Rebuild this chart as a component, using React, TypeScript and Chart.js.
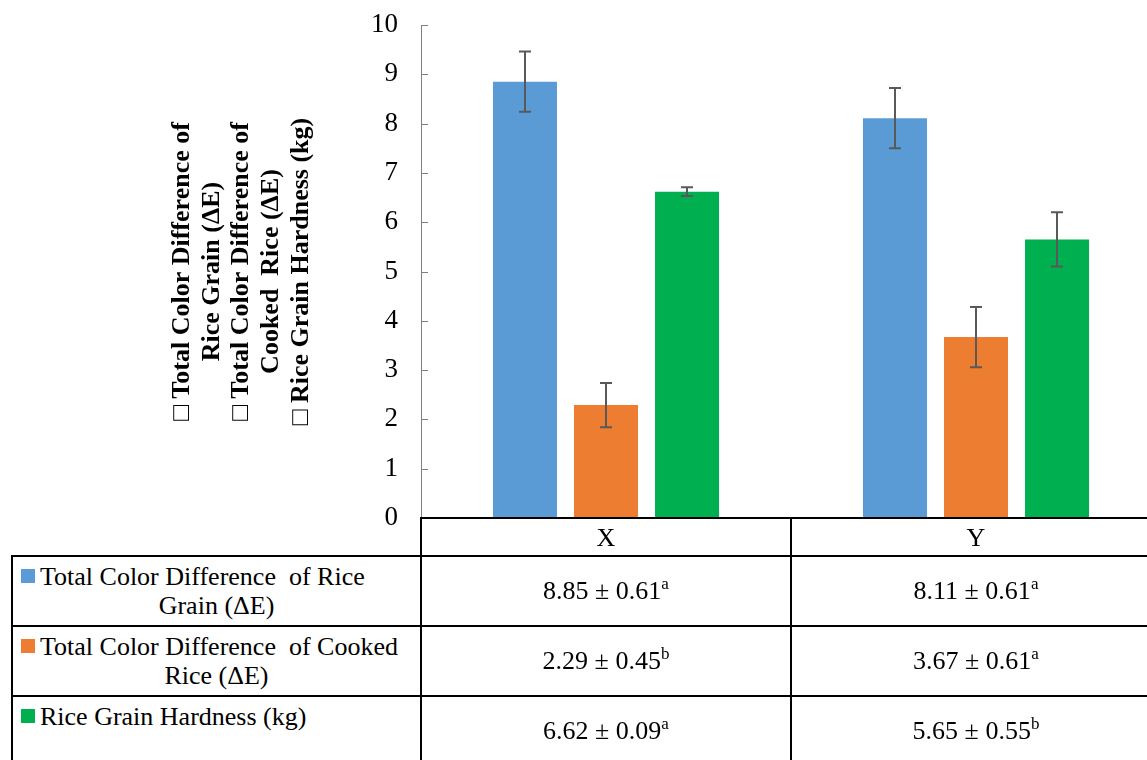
import React, { useEffect, useRef } from "react";
import { Chart, registerables } from "chart.js";

Chart.register(...registerables);

// ---- data ----
const categories = ["X", "Y"];
const seriesNames = [
  "Total Color Difference of Rice Grain (ΔE)",
  "Total Color Difference of Cooked Rice (ΔE)",
  "Rice Grain Hardness (kg)",
];
const riceGrainDE = [8.85, 8.11];
const riceGrainDESd = [0.61, 0.61];
const riceGrainDELetters = ["a", "a"];
const cookedRiceDE = [2.29, 3.67];
const cookedRiceDESd = [0.45, 0.61];
const cookedRiceDELetters = ["b", "a"];
const hardness = [6.62, 5.65];
const hardnessSd = [0.09, 0.55];
const hardnessLetters = ["a", "b"];
const yMin = 0;
const yMax = 10;
const yStep = 1;
const yTitleLines = [
  "□ Total Color Difference of",
  "Rice Grain (ΔE)",
  "□ Total Color Difference of",
  "Cooked  Rice (ΔE)",
  "□ Rice Grain Hardness (kg)",
];
const seriesColors = ["#5B9BD5", "#ED7D31", "#00B050"];

const seriesValues = [riceGrainDE, cookedRiceDE, hardness];
const seriesSd = [riceGrainDESd, cookedRiceDESd, hardnessSd];
const seriesLetters = [riceGrainDELetters, cookedRiceDELetters, hardnessLetters];

const SERIF = "'Liberation Serif', 'Times New Roman', serif";

const errorBarPlugin = {
  id: "errorBars",
  afterDatasetsDraw(chart: any) {
    const ctx = chart.ctx;
    const yScale = chart.scales.y;
    ctx.save();
    ctx.strokeStyle = "#595959";
    ctx.lineWidth = 2;
    chart.data.datasets.forEach((ds: any, i: number) => {
      const meta = chart.getDatasetMeta(i);
      meta.data.forEach((el: any, j: number) => {
        const v = ds.data[j];
        const sd = seriesSd[i][j];
        const yT = yScale.getPixelForValue(v + sd);
        const yB = yScale.getPixelForValue(v - sd);
        const x = Math.round(el.x);
        ctx.beginPath();
        ctx.moveTo(x, yT);
        ctx.lineTo(x, yB);
        ctx.moveTo(x - 6, yT);
        ctx.lineTo(x + 6, yT);
        ctx.moveTo(x - 6, yB);
        ctx.lineTo(x + 6, yB);
        ctx.stroke();
      });
    });
    ctx.restore();
  },
};

const innerTicksPlugin = {
  id: "innerTicks",
  afterDraw(chart: any) {
    const ctx = chart.ctx;
    const yScale = chart.scales.y;
    const left = chart.chartArea.left;
    ctx.save();
    ctx.strokeStyle = "#7f7f7f";
    ctx.lineWidth = 1;
    yScale.ticks.forEach((t: any) => {
      const y = Math.round(yScale.getPixelForValue(t.value)) + 0.5;
      ctx.beginPath();
      ctx.moveTo(left, y);
      ctx.lineTo(left + 7, y);
      ctx.stroke();
    });
    ctx.restore();
  },
};

function Line({ x, y, w, h }: { x: number; y: number; w: number; h: number }) {
  return (
    <div
      style={{ position: "absolute", left: x, top: y, width: w, height: h, background: "#000" }}
    />
  );
}

export default function App() {
  const canvasRef = useRef<HTMLCanvasElement | null>(null);

  useEffect(() => {
    if (!canvasRef.current) return;
    const chart = new Chart(canvasRef.current, {
      type: "bar",
      data: {
        labels: categories,
        datasets: seriesValues.map((vals, i) => ({
          label: seriesNames[i],
          data: vals,
          backgroundColor: seriesColors[i],
          borderWidth: 0,
          categoryPercentage: 0.657,
          barPercentage: 0.79,
        })),
      },
      options: {
        responsive: false,
        animation: false,
        devicePixelRatio: 1,
        layout: { padding: { top: 25, bottom: 17, left: 0, right: 0 } },
        plugins: { legend: { display: false }, tooltip: { enabled: false } },
        scales: {
          x: { display: false },
          y: {
            min: yMin,
            max: yMax,
            afterFit(scale: any) {
              scale.width = 421;
            },
            ticks: {
              stepSize: yStep,
              color: "#000",
              padding: 0,
              font: { family: SERIF, size: 27 },
            },
            grid: {
              display: true,
              drawOnChartArea: false,
              drawTicks: true,
              tickLength: 23,
              color: "rgba(0,0,0,0)",
            },
            border: { display: true, color: "#7f7f7f", width: 1 },
            title: {
              display: true,
              text: yTitleLines,
              color: "#000",
              font: { family: SERIF, size: 26, weight: "bold", lineHeight: 1.15 },
              padding: { top: 167, bottom: 0 },
            },
          },
        },
      },
      plugins: [errorBarPlugin, innerTicksPlugin],
    });
    return () => chart.destroy();
  }, []);

  const rowTops = [556, 626, 696];
  const rowH = 70;
  const colLefts = [421, 791];
  const colW = 370;
  const firstLines = [
    "Total Color Difference  of Rice",
    "Total Color Difference  of Cooked",
    "Rice Grain Hardness (kg)",
  ];
  const secondLines = ["Grain (ΔE)", "Rice (ΔE)", ""];

  return (
    <div
      style={{
        position: "absolute",
        left: 0,
        top: 0,
        width: 1147,
        height: 760,
        overflow: "hidden",
        background: "#fff",
        fontFamily: SERIF,
        color: "#000",
      }}
    >
      <canvas
        ref={canvasRef}
        width={1161}
        height={535}
        style={{ position: "absolute", left: 0, top: 0, width: 1161, height: 535 }}
      />
      {/* table lines */}
      <Line x={420} y={517} w={760} h={2} />
      <Line x={11} y={555} w={1150} h={2} />
      <Line x={11} y={625} w={1150} h={2} />
      <Line x={11} y={695} w={1150} h={2} />
      <Line x={11} y={555} w={2} h={220} />
      <Line x={420} y={517} w={2} h={260} />
      <Line x={790} y={517} w={2} h={260} />
      {/* header */}
      {categories.map((c, k) => (
        <div
          key={c}
          style={{
            position: "absolute",
            left: colLefts[k],
            top: 519,
            width: colW,
            height: 37,
            display: "flex",
            alignItems: "center",
            justifyContent: "center",
            fontSize: 26,
          }}
        >
          {c}
        </div>
      ))}
      {/* legend column */}
      {seriesNames.map((name, i) => (
        <React.Fragment key={name}>
          <div
            style={{
              position: "absolute",
              left: 21,
              top: rowTops[i] + 6,
              height: 30,
              display: "flex",
              alignItems: "center",
              fontSize: 26,
              whiteSpace: "pre",
            }}
          >
            <span
              style={{
                display: "inline-block",
                width: 14,
                height: 14,
                background: seriesColors[i],
                marginRight: 5,
                marginTop: -3,
              }}
            />
            {firstLines[i]}
          </div>
          {secondLines[i] && (
            <div
              style={{
                position: "absolute",
                left: 13,
                width: 407,
                top: rowTops[i] + 35,
                height: 30,
                lineHeight: "30px",
                textAlign: "center",
                fontSize: 26,
                whiteSpace: "pre",
              }}
            >
              {secondLines[i]}
            </div>
          )}
        </React.Fragment>
      ))}
      {/* values */}
      {seriesValues.map((vals, i) =>
        vals.map((v, k) => (
          <div
            key={`${i}-${k}`}
            style={{
              position: "absolute",
              left: colLefts[k],
              top: rowTops[i] + 2,
              width: colW,
              height: rowH - 4,
              display: "flex",
              alignItems: "center",
              justifyContent: "center",
              fontSize: 26,
              whiteSpace: "pre",
            }}
          >
            <span>
              {`${v.toFixed(2)} ± ${seriesSd[i][k].toFixed(2)}`}
              <span style={{ fontSize: 17, position: "relative", top: -10 }}>
                {seriesLetters[i][k]}
              </span>
            </span>
          </div>
        ))
      )}
    </div>
  );
}
